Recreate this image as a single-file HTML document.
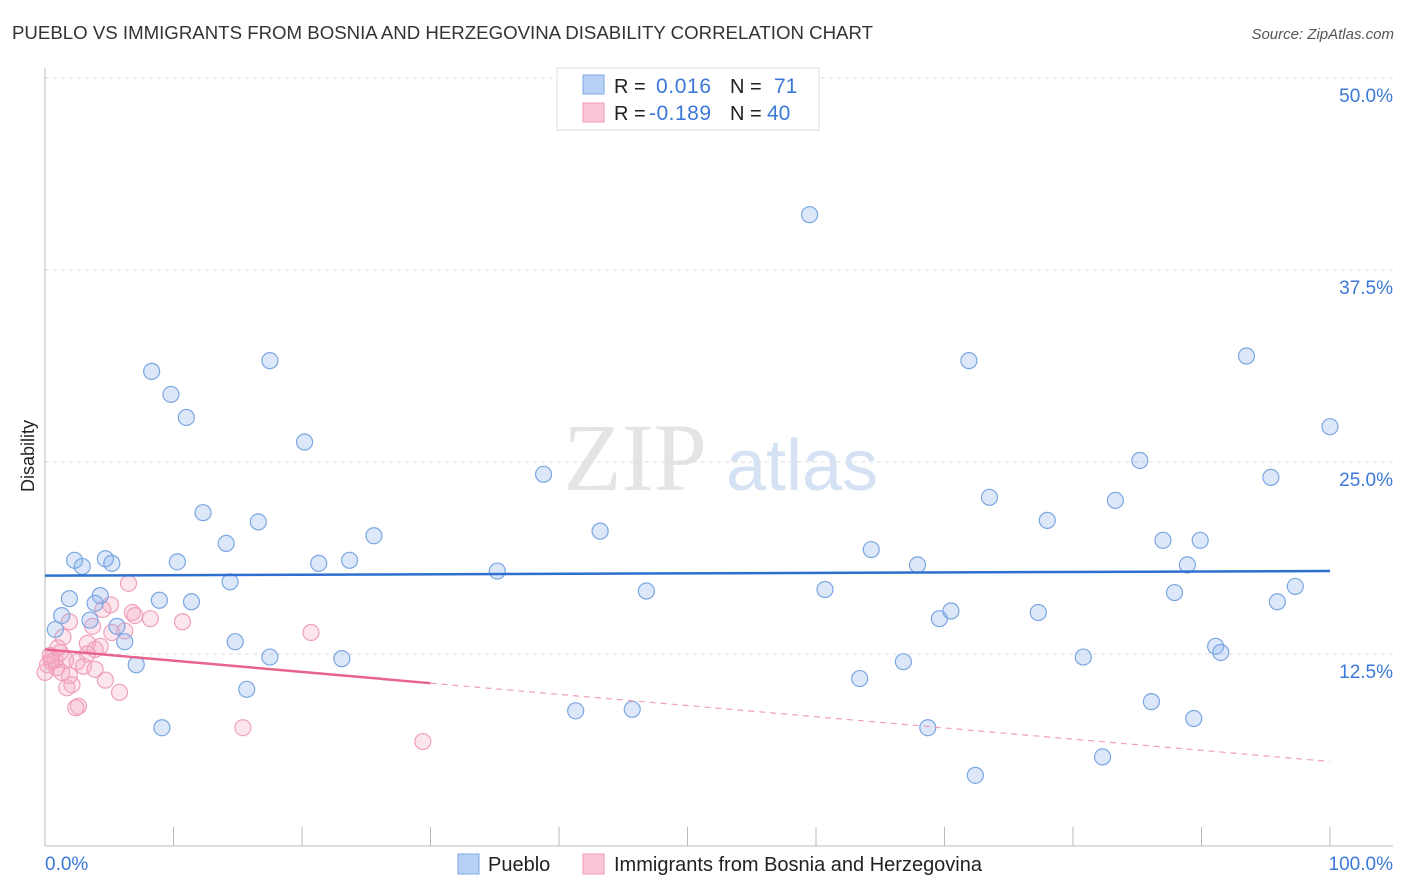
<!DOCTYPE html>
<html><head><meta charset="utf-8">
<style>
body{margin:0;background:#fff;font-family:"Liberation Sans",sans-serif;}
#wrap{position:relative;width:1406px;height:892px;overflow:hidden;}
</style></head>
<body>
<div id="wrap">
<svg id="chart" width="1406" height="892" style="position:absolute;left:0;top:0">
<text x="12" y="39" font-size="18" fill="#333" textLength="861" lengthAdjust="spacingAndGlyphs">PUEBLO VS IMMIGRANTS FROM BOSNIA AND HERZEGOVINA DISABILITY CORRELATION CHART</text>
<text x="1394" y="39" font-size="15" fill="#555" text-anchor="end" font-style="italic">Source: ZipAtlas.com</text>
<g>
<text x="635" y="490" font-size="96" fill="#e4e4e4" font-family="Liberation Serif,serif" text-anchor="middle">ZIP</text>
<text x="802" y="490" font-size="72" fill="#d4e2f4" text-anchor="middle">atlas</text>
</g>
<g id="grid"></g>
<g id="axes"></g>
<g id="marks"></g>
<text transform="translate(34,456) rotate(-90)" font-size="18" fill="#222" text-anchor="middle">Disability</text>
<g>
<rect x="557" y="68" width="262" height="62" fill="#fff" stroke="#ddd"/>
<rect x="583" y="75" width="21" height="19" fill="#b7d1f4" stroke="#7faae6"/>
<rect x="583" y="103" width="21" height="19" fill="#f9c7d5" stroke="#ee9ab4"/>
<text x="614" y="93" font-size="20" fill="#222">R = </text>
<text x="656" y="93" font-size="21" fill="#3b78d8" textLength="55">0.016</text>
<text x="730" y="93" font-size="20" fill="#222">N = </text>
<text x="774" y="93" font-size="21" fill="#3b78d8">71</text>
<text x="614" y="120" font-size="20" fill="#222">R = </text>
<text x="649" y="120" font-size="21" fill="#3b78d8" textLength="62">-0.189</text>
<text x="730" y="120" font-size="20" fill="#222">N = </text>
<text x="767" y="120" font-size="21" fill="#3b78d8">40</text>
</g>
<g>
<rect x="458" y="854" width="21" height="20" fill="#b7d1f4" stroke="#7faae6"/>
<text x="488" y="871" font-size="20" fill="#222">Pueblo</text>
<rect x="583" y="854" width="21" height="20" fill="#f9c7d5" stroke="#ee9ab4"/>
<text x="614" y="871" font-size="20" fill="#222" textLength="368">Immigrants from Bosnia and Herzegovina</text>
</g>
</svg>
</div>
<script>
const yTicks=[12.5,25,37.5,50];
const yTickLabels=["12.5%","25.0%","37.5%","50.0%"];
const xTickLabels=["0.0%","100.0%"];
const puebloX=[59.5,8.3,9.8,11.0,17.5,20.2,12.3,16.6,14.1,25.6,38.8,43.2,2.3,2.9,4.7,5.2,10.3,21.3,23.7,35.2,14.4,1.9,4.3,3.9,8.9,11.4,1.3,3.5,5.6,0.8,6.2,14.8,17.5,23.1,7.1,15.7,9.1,46.8,41.3,45.7,60.7,64.3,67.9,63.4,66.8,69.6,70.5,68.7,71.9,73.5,72.4,78.0,77.3,80.8,82.3,85.2,83.3,87.0,89.9,88.9,87.9,86.1,89.4,91.1,91.5,93.5,95.4,100,97.3,95.9];
const puebloY=[41.1,30.9,29.4,27.9,31.6,26.3,21.7,21.1,19.7,20.2,24.2,20.5,18.6,18.2,18.7,18.4,18.5,18.4,18.6,17.9,17.2,16.1,16.3,15.8,16.0,15.9,15.0,14.7,14.3,14.1,13.3,13.3,12.3,12.2,11.8,10.2,7.7,16.6,8.8,8.9,16.7,19.3,18.3,10.9,12.0,14.8,15.3,7.7,31.6,22.7,4.6,21.2,15.2,12.3,5.8,25.1,22.5,19.9,19.9,18.3,16.5,9.4,8.3,13.0,12.6,31.9,24.0,27.3,16.9,15.9];
const bosniaX=[6.5,5.1,4.5,6.8,7.0,8.2,10.7,1.9,3.7,6.2,1.4,20.7,3.3,4.3,1.0,3.3,0.5,0.2,1.6,2.5,0.9,3.0,3.9,1.3,1.9,0,2.1,1.7,4.7,5.8,2.6,2.4,15.4,29.4,0.4,0.8,1.2,0.5,5.2,3.9];
const bosniaY=[17.1,15.7,15.4,15.2,15.0,14.8,14.6,14.6,14.3,14.0,13.6,13.9,13.2,13.0,12.9,12.5,12.2,11.8,12.1,12.0,11.6,11.7,11.5,11.3,11.1,11.3,10.5,10.3,10.8,10.0,9.1,9.0,7.7,6.8,12.4,12.1,12.6,12.0,13.9,12.8];
const puebloTrend=[17.6,17.9];
const bosniaTrend=[12.8,10.6,5.5];
const bosniaSolidEnd=30;

const X0=45,X1=1330,Y0=846,PPU=192/12.5;
const sx=v=>X0+(X1-X0)*v/100;
const sy=v=>Y0-v*PPU;
const NS="http://www.w3.org/2000/svg";
function mk(tag,attrs,parent){const e=document.createElementNS(NS,tag);for(const k in attrs)e.setAttribute(k,attrs[k]);parent.appendChild(e);return e;}
const grid=document.getElementById('grid'),axes=document.getElementById('axes'),marks=document.getElementById('marks');
yTicks.forEach((t,i)=>{
  const l=mk('line',{x1:X0,x2:1393,y1:sy(t),y2:sy(t),stroke:'#ddd','stroke-dasharray':'4,4'},grid);
  
  
  const tx=mk('text',{x:1393,y:sy(t)+24,'font-size':19,fill:'#3b78d8','text-anchor':'end'},axes);
  tx.textContent=yTickLabels[i];
  
  
});
const ax=mk('line',{x1:X0,x2:1393,y1:Y0,y2:Y0,stroke:'#bbb'},axes);


const ay=mk('line',{x1:X0,x2:X0,y1:68,y2:Y0,stroke:'#bbb'},axes);


for(let i=0;i<=10;i++){
  const t=mk('line',{x1:sx(i*10),x2:sx(i*10),y1:827,y2:Y0,stroke:'#bbb'},axes);
  
  
}
const xl0=mk('text',{x:45,y:870,'font-size':19,fill:'#3b78d8'},axes);xl0.textContent=xTickLabels[0];


const xl1=mk('text',{x:1393,y:870,'font-size':19,fill:'#3b78d8','text-anchor':'end'},axes);xl1.textContent=xTickLabels[1];



bosniaX.forEach((x,i)=>{
  const c=mk('circle',{cx:sx(x),cy:sy(bosniaY[i]),r:8,fill:'rgba(246,170,195,0.3)',stroke:'#f0a0ba','stroke-width':1.2},marks);
  
  
});
puebloX.forEach((x,i)=>{
  const c=mk('circle',{cx:sx(x),cy:sy(puebloY[i]),r:8,fill:'rgba(140,180,235,0.3)',stroke:'#7aa6e2','stroke-width':1.2},marks);
  
  
});
const pt=mk('line',{x1:sx(0),x2:sx(100),y1:sy(puebloTrend[0]),y2:sy(puebloTrend[1]),stroke:'#2f6fd0','stroke-width':2.5},marks);


const bt=mk('line',{x1:sx(0),x2:sx(bosniaSolidEnd),y1:sy(bosniaTrend[0]),y2:sy(bosniaTrend[1]),stroke:'#e8648e','stroke-width':2.5},marks);


const bd=mk('line',{x1:sx(bosniaSolidEnd),x2:sx(100),y1:sy(bosniaTrend[1]),y2:sy(bosniaTrend[2]),stroke:'#f0a0ba','stroke-width':1.2,'stroke-dasharray':'6,5'},marks);


</script>
</body></html>
